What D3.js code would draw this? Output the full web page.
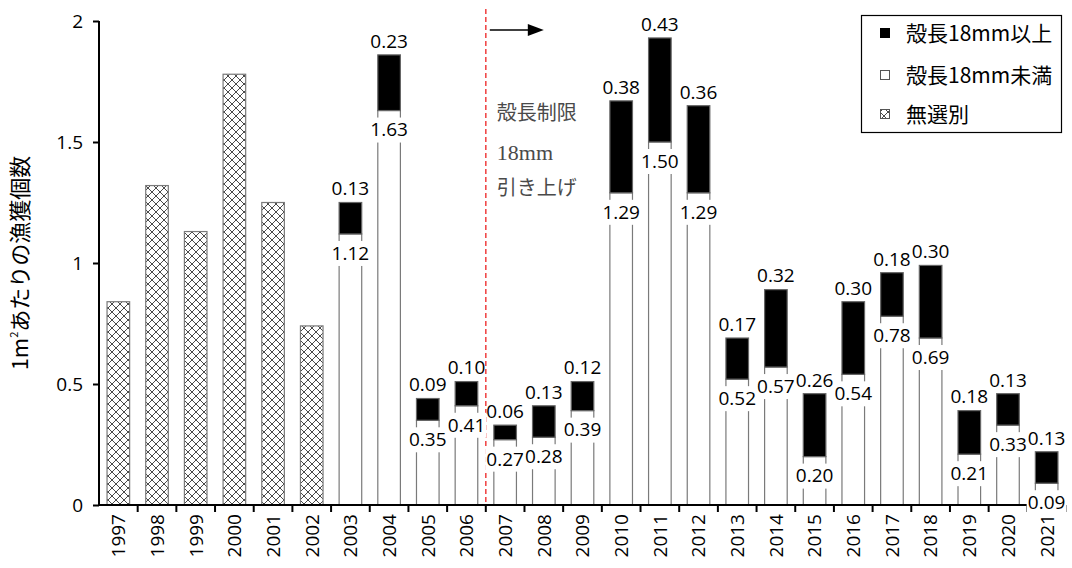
<!DOCTYPE html>
<html>
<head>
<meta charset="utf-8">
<script src="https://cdn.jsdelivr.net/npm/d3@7/dist/d3.min.js"></script>
<style>
  html, body { margin: 0; padding: 0; background: #fff; }
  svg { display: block; }
</style>
</head>
<body>
<svg id="chart" width="1072" height="568"></svg>
<script>
// Catch per 1 m² by year
const years = ["1997","1998","1999","2000","2001","2002","2003","2004","2005","2006","2007","2008","2009","2010","2011","2012","2013","2014","2015","2016","2017","2018","2019","2020","2021"];
// unsorted catch (1997–2002)
const unsortedYears = ["1997","1998","1999","2000","2001","2002"];
const unsortedValues = [0.84, 1.32, 1.13, 1.78, 1.25, 0.74];
// sorted catch (2003–2021): below 18 mm and 18 mm or more
const sortedYears = ["2003","2004","2005","2006","2007","2008","2009","2010","2011","2012","2013","2014","2015","2016","2017","2018","2019","2020","2021"];
const under18 = [1.12, 1.63, 0.35, 0.41, 0.27, 0.28, 0.39, 1.29, 1.50, 1.29, 0.52, 0.57, 0.20, 0.54, 0.78, 0.69, 0.21, 0.33, 0.09];
const over18  = [0.13, 0.23, 0.09, 0.10, 0.06, 0.13, 0.12, 0.38, 0.43, 0.36, 0.17, 0.32, 0.26, 0.30, 0.18, 0.30, 0.18, 0.13, 0.13];
const yTicks = [0, 0.5, 1, 1.5, 2];
const legendLabels = ["殻長18mm以上", "殻長18mm未満", "無選別"];
const noteLines = ["殻長制限", "18mm", "引き上げ"];
const yTitle = ["1m", "2", "あたりの漁獲個数"];
const limitChangeAfter = "2006";

const svg = d3.select("#chart");
const margin = { left: 99 };

const x = d3.scaleBand().domain(years).range([margin.left, 1066]).paddingInner(0.39).paddingOuter(0.195);
const y = d3.scaleLinear().domain([0, 2]).range([505, 21]);

const numFont = "'Open Sans', 'Noto Sans', sans-serif";
const cjkFont = "'Noto Sans CJK JP', 'Noto Sans', sans-serif";
const barStroke = "#7a7a7a";

// crosshatch pattern for unsorted bars
const defs = svg.append("defs");
const pat = defs.append("pattern").attr("id", "hatch").attr("patternUnits", "userSpaceOnUse")
  .attr("width", 8).attr("height", 8);
pat.append("rect").attr("width", 8).attr("height", 8).attr("fill", "#fff");
pat.append("path").attr("d", "M0,0L8,8M8,0L0,8").attr("stroke", "#4a4a4a").attr("stroke-width", 1);

// unsorted bars
svg.append("g").selectAll("rect").data(unsortedYears.map((d, i) => ({ yr: d, v: unsortedValues[i] })))
  .join("rect")
  .attr("x", d => x(d.yr) + 0.5).attr("width", x.bandwidth() - 1)
  .attr("y", d => y(d.v)).attr("height", d => y(0) - y(d.v))
  .attr("fill", "url(#hatch)").attr("stroke", barStroke).attr("stroke-width", 1.2);

const sorted = sortedYears.map((d, i) => ({ yr: d, lo: under18[i], hi: over18[i] }));

// below-18mm segments (white)
svg.append("g").selectAll("rect").data(sorted).join("rect")
  .attr("x", d => x(d.yr) + 0.5).attr("width", x.bandwidth() - 1)
  .attr("y", d => y(d.lo)).attr("height", d => y(0) - y(d.lo))
  .attr("fill", "#fff").attr("stroke", barStroke).attr("stroke-width", 1.2);

// 18mm-or-more segments (black)
svg.append("g").selectAll("rect").data(sorted).join("rect")
  .attr("x", d => x(d.yr) + 0.5).attr("width", x.bandwidth() - 1)
  .attr("y", d => y(d.lo + d.hi)).attr("height", d => y(d.lo) - y(d.lo + d.hi))
  .attr("fill", "#000").attr("stroke", "#666").attr("stroke-width", 1.2);

// y axis
const yAxis = svg.append("g").attr("transform", `translate(${margin.left},0)`)
  .call(d3.axisLeft(y).tickValues(yTicks).tickSize(6).tickPadding(10).tickFormat(d3.format("")));
yAxis.select(".domain").attr("stroke", "#000").attr("stroke-width", 2).attr("d", `M0,${y(2)}V${y(0)}`);
yAxis.selectAll(".tick line").attr("stroke", "#000").attr("stroke-width", 2);
yAxis.selectAll(".tick text").attr("font-family", numFont).attr("font-size", 19).attr("fill", "#000");

// x axis: labels rotated, ticks at category boundaries
const xAxis = svg.append("g").attr("transform", `translate(0,${y(0)})`)
  .call(d3.axisBottom(x).tickSize(0).tickPadding(8));
xAxis.select(".domain").attr("stroke", "#000").attr("stroke-width", 2).attr("d", `M${margin.left},0H1066`);
xAxis.selectAll(".tick text").attr("font-family", numFont).attr("font-size", 19).attr("fill", "#000")
  .attr("transform", "rotate(-90)").attr("text-anchor", "end").attr("dy", "0.36em").attr("x", -9).attr("y", 0);
const step = x.step();
svg.append("g").selectAll("line").data(d3.range(1, years.length + 1)).join("line")
  .attr("x1", i => margin.left + i * step).attr("x2", i => margin.left + i * step)
  .attr("y1", y(0)).attr("y2", y(0) + 7).attr("stroke", "#000").attr("stroke-width", 2);

// y axis title
const yt = svg.append("text").attr("transform", `translate(28,${(y(0) + y(2)) / 2}) rotate(-90)`)
  .attr("text-anchor", "middle").attr("font-family", cjkFont).attr("font-size", 22).attr("fill", "#000");
yt.append("tspan").text(yTitle[0]);
yt.append("tspan").attr("font-size", 11).attr("dy", -10).text(yTitle[1]);
yt.append("tspan").attr("dy", 10).text(yTitle[2]);

// regulation change marker
const limitX = x(limitChangeAfter) - x.paddingInner() * step / 2 + step;
svg.append("line").attr("x1", limitX).attr("x2", limitX).attr("y1", 9).attr("y2", y(0))
  .attr("stroke", "#f04a4a").attr("stroke-width", 1.6).attr("stroke-dasharray", "5,3");
svg.append("line").attr("x1", limitX + 4).attr("x2", limitX + 44).attr("y1", 30).attr("y2", 30)
  .attr("stroke", "#000").attr("stroke-width", 1.5);
svg.append("path").attr("d", `M${limitX + 42},24L${limitX + 58},30L${limitX + 42},36Z`).attr("fill", "#000");

const note = svg.append("g").attr("fill", "#4a4a4a").attr("font-size", 20);
note.append("text").attr("x", limitX + 11).attr("y", 120).attr("font-family", cjkFont).text(noteLines[0]);
note.append("text").attr("x", limitX + 11).attr("y", 160).attr("font-family", "'Liberation Serif', serif").attr("font-size", 22).text(noteLines[1]);
note.append("text").attr("x", limitX + 11).attr("y", 195).attr("font-family", cjkFont).text(noteLines[2]);

// value labels
const labels = svg.append("g").attr("font-family", numFont).attr("font-size", 19).attr("fill", "#000");
sorted.forEach(d => {
  const cx = x(d.yr) + x.bandwidth() / 2;
  // value of the black segment, above it
  labels.append("text").attr("x", cx).attr("y", y(d.lo + d.hi) - 14).attr("dy", "0.36em")
    .attr("text-anchor", "middle").text(d.hi.toFixed(2));
  // value of the white segment, just under the black one
  const ly = y(d.lo) + 19;
  labels.append("rect").attr("x", cx - 20).attr("y", ly - 12).attr("width", 40).attr("height", 25).attr("fill", "#fff");
  labels.append("text").attr("x", cx).attr("y", ly).attr("dy", "0.36em")
    .attr("text-anchor", "middle").text(d.lo.toFixed(2));
});

// legend
const lg = svg.append("g");
lg.append("rect").attr("x", 861.5).attr("y", 15.5).attr("width", 200).attr("height", 117)
  .attr("fill", "#fff").attr("stroke", "#000").attr("stroke-width", 1.2);
const swatchFill = ["#000", "#fff", "url(#hatch)"];
const swatchStroke = ["#000", "#555", "#555"];
const rowY = [33, 75, 114];
legendLabels.forEach((t, i) => {
  lg.append("rect").attr("x", 880.5).attr("y", rowY[i] - 4.5).attr("width", 9).attr("height", 9)
    .attr("fill", swatchFill[i]).attr("stroke", swatchStroke[i]).attr("stroke-width", 1);
  lg.append("text").attr("x", 906).attr("y", rowY[i]).attr("dy", "0.36em")
    .attr("font-family", cjkFont).attr("font-size", 21).attr("fill", "#000").text(t);
});
</script>
</body>
</html>
